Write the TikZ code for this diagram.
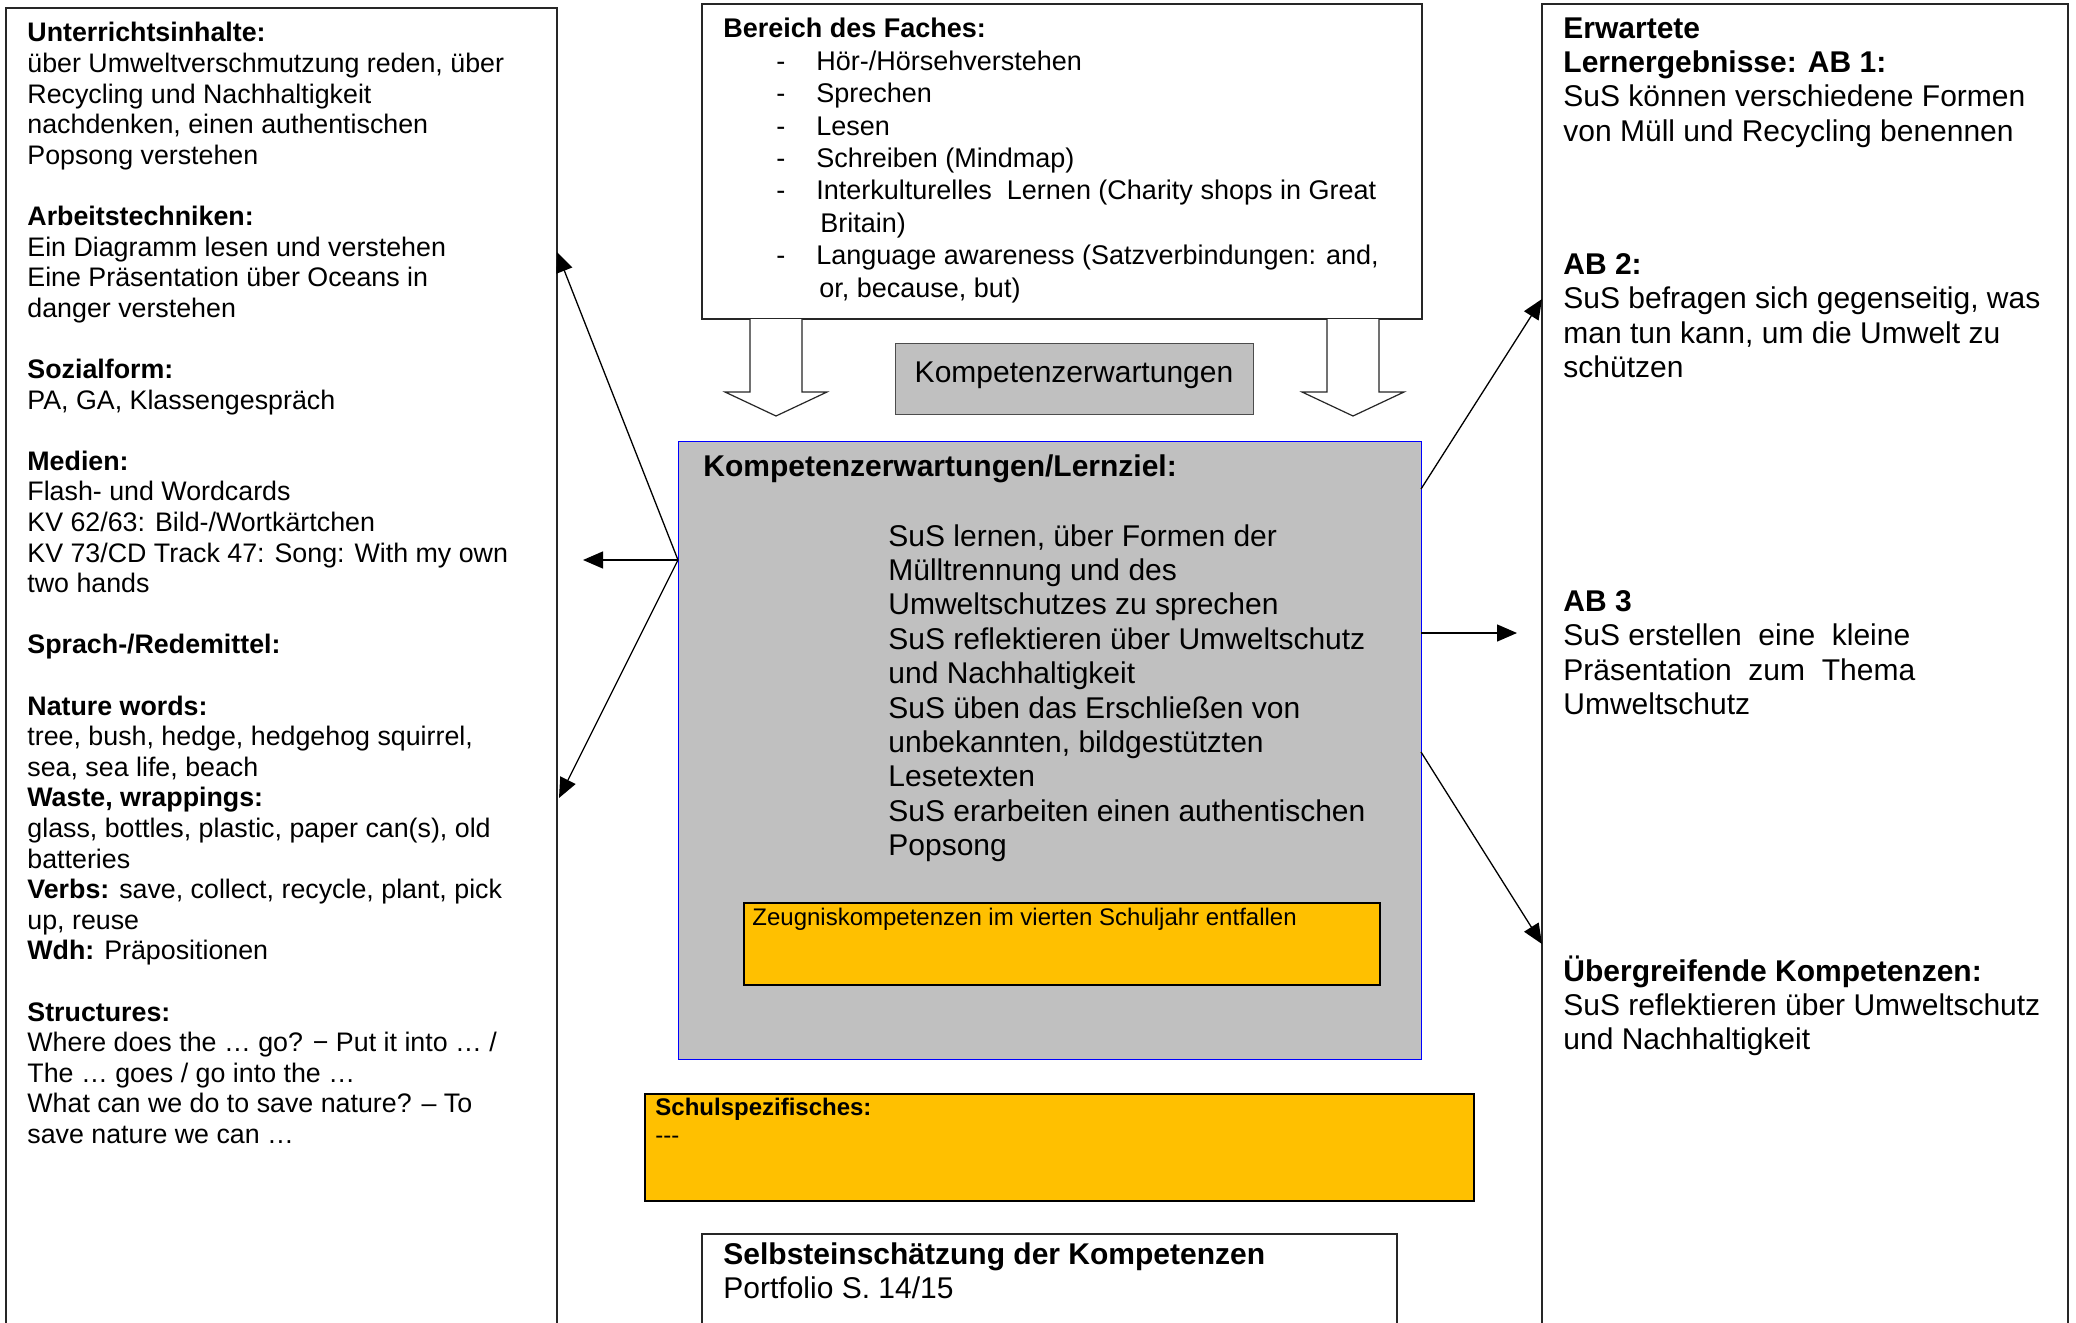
\documentclass[tikz,border=0pt]{standalone}
\usepackage{fontspec}
\setmainfont{Liberation Sans}
\usetikzlibrary{arrows.meta}
\definecolor{grau}{HTML}{C0C0C0}
\definecolor{gelb}{HTML}{FFC000}
\newcommand{\strich}{\hspace*{26.5pt}\makebox[20pt][l]{-}}
\begin{document}
\begin{tikzpicture}[>={Triangle[length=10pt,width=8.5pt]},x=0.5pt,y=-0.5pt,
    rahmen/.style={draw=black!85,line width=0.6pt},
    txt/.style={anchor=north west,inner sep=0pt,align=left},
    klein/.style={font=\fontsize{13.4}{15.3}\selectfont},
    gross/.style={font=\fontsize{15}{17.2}\selectfont},
    pfeil/.style={->,line width=0.65pt}]
  \path[use as bounding box] (0,0) rectangle (2076,1322);
  \clip (0,0) rectangle (2076,1322);
  %\draw[gray!30] (0,0) grid[step=100] (2076,1322);
  % linke Spalte
  \draw[rahmen] (6,1330) -- (6,8) -- (557,8) -- (557,1330);
  \node[txt,klein] (inhalt) at (27,22) {\textbf{Unterrichtsinhalte:}\\
    über Umweltverschmutzung reden, über\\
    Recycling und Nachhaltigkeit\\
    nachdenken, einen authentischen\\
    Popsong verstehen\\[15.3pt]
    \textbf{Arbeitstechniken:}\\
    Ein Diagramm lesen und verstehen\\
    Eine Präsentation über Oceans in\\
    danger verstehen\\[15.3pt]
    \textbf{Sozialform:}\\
    PA, GA, Klassengespräch\\[15.3pt]
    \textbf{Medien:}\\
    Flash- und Wordcards\\
    KV 62/63: Bild-/Wortkärtchen\\
    KV 73/CD Track 47: Song: With my own\\
    two hands\\[15.3pt]
    \textbf{Sprach-/Redemittel:}\\[15.3pt]
    \textbf{Nature words:}\\
    tree, bush, hedge, hedgehog squirrel,\\
    sea, sea life, beach\\
    \textbf{Waste, wrappings:}\\
    glass, bottles, plastic, paper can(s), old\\
    batteries\\
    \textbf{Verbs:} save, collect, recycle, plant, pick\\
    up, reuse\\
    \textbf{Wdh:} Präpositionen\\[15.3pt]
    \textbf{Structures:}\\
    Where does the … go? − Put it into … /\\
    The … goes / go into the …\\
    What can we do to save nature? – To\\
    save nature we can …};
  % Mitte oben
  \draw[rahmen] (702,4) rectangle (1422,319);
  \node[txt,font=\fontsize{13.5}{16.2}\selectfont] (fach) at (723,18) {\textbf{Bereich des Faches:}\\
    \strich Hör-/Hörsehverstehen\\
    \strich Sprechen\\
    \strich Lesen\\
    \strich Schreiben (Mindmap)\\
    \strich Interkulturelles\ \ Lernen (Charity shops in\ Great\\
    \hspace*{48.5pt}Britain)\\
    \strich Language awareness (Satzverbindungen: and,\\
    \hspace*{48pt}or, because, but)};
  \foreach \cx in {776,1353}
    \draw[rahmen,fill=white] (\cx-26,319) -- (\cx-26,392) -- (\cx-51,392) -- (\cx,416)
      -- (\cx+51,392) -- (\cx+26,392) -- (\cx+26,319);
  \node[draw=black!70,fill=grau,minimum width=179pt,minimum height=35.5pt,
    text height=10.9pt,text depth=7.1pt,gross] (kompetenz) at (1074,378.5) {Kompetenzerwartungen};
  % Lernziel
  \draw[fill=grau,draw=blue,line width=0.5pt] (678,441) rectangle (1421,1059);
  \node[txt,gross] (ziel) at (703,454) {\textbf{Kompetenzerwartungen/Lernziel:}};
  \node[txt,gross] (lernziel) at (888,524) {SuS lernen, über Formen der\\
    Mülltrennung und des\\
    Umweltschutzes zu sprechen\\
    SuS reflektieren über Umweltschutz\\
    und Nachhaltigkeit\\
    SuS üben das Erschließen von\\
    unbekannten, bildgestützten\\
    Lesetexten\\
    SuS erarbeiten einen authentischen\\
    Popsong};
  \draw[fill=gelb,line width=1.2pt] (744,903) rectangle (1380,985);
  \node[txt,font=\fontsize{12}{13.8}\selectfont] (zeugnis) at (752,908)
    {Zeugniskompetenzen im vierten Schuljahr entfallen};
  \draw[fill=gelb,line width=1.2pt] (645,1094) rectangle (1474,1201);
  \node[txt,font=\fontsize{12}{14}\selectfont] (schule) at (655,1098)
    {\textbf{Schulspezifisches:}\\-{}-{}-};
  \draw[rahmen] (702,1330) -- (702,1234) -- (1397,1234) -- (1397,1330);
  \node[txt,gross] (selbst) at (723,1242) {\textbf{Selbsteinschätzung der Kompetenzen}\\
    Portfolio S. 14/15};
  % rechte Spalte
  \draw[rahmen] (1542,1330) -- (1542,4) -- (2068,4) -- (2068,1330);
  \node[txt,gross] (ab1) at (1563,17) {\textbf{Erwartete}\\
    \textbf{Lernergebnisse: AB 1:}\\
    SuS können verschiedene Formen\\
    von Müll und Recycling benennen};
  \node[txt,gross] (ab2) at (1563,253) {\textbf{AB 2:}\\
    SuS befragen sich gegenseitig, was\\
    man tun kann, um die Umwelt zu\\
    schützen};
  \node[txt,gross] (ab3) at (1563,590) {\textbf{AB 3}\\
    SuS erstellen\ \ eine\ \ kleine\\
    Präsentation\ \ zum\ \ Thema\\
    Umweltschutz};
  \node[txt,gross] (ueber) at (1563,955) {\textbf{Übergreifende Kompetenzen:}\\
    SuS reflektieren über Umweltschutz\\
    und Nachhaltigkeit};
  % Pfeile
  \coordinate (zl) at (678,560);
  \coordinate (inhaltA) at (557,252);
  \coordinate (inhaltB) at (583,560);
  \coordinate (inhaltC) at (559,798);
  \coordinate (zr1) at (1421,489);
  \coordinate (zr2) at (1421,633);
  \coordinate (zr3) at (1421,752);
  \coordinate (ergA) at (1542,299);
  \coordinate (ergB) at (1517,633);
  \coordinate (ergC) at (1542,944);
  \foreach \z in {inhaltA,inhaltB,inhaltC}
    \draw[pfeil] (zl) -- (\z);
  \draw[pfeil] (zr1) -- (ergA);
  \draw[pfeil] (zr2) -- (ergB);
  \draw[pfeil] (zr3) -- (ergC);
\end{tikzpicture}
\end{document}
